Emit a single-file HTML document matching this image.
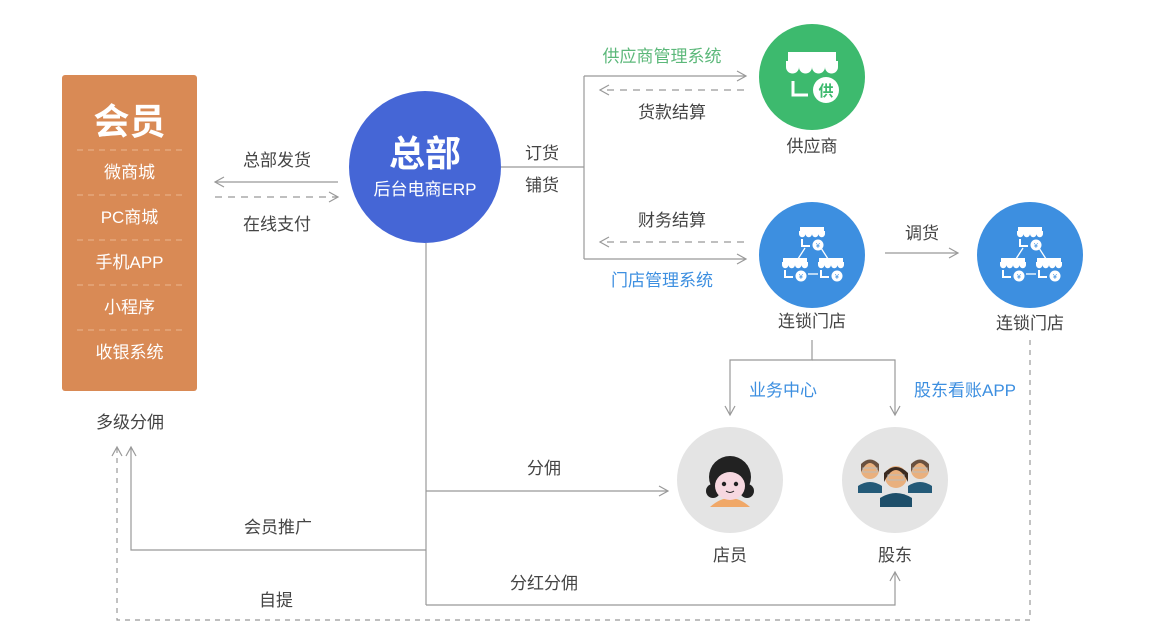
<!DOCTYPE html>
<html><head><meta charset="utf-8"><style>
html,body{margin:0;padding:0;background:#fff;}
svg{display:block;}
text{font-family:"Liberation Sans","Noto Sans CJK SC",sans-serif;}
</style></head><body>
<svg width="1155" height="641" viewBox="0 0 1155 641" xmlns="http://www.w3.org/2000/svg">
<defs>
<marker id="ar" markerWidth="12" markerHeight="12" refX="10" refY="6" orient="auto" markerUnits="userSpaceOnUse">
<path d="M1,1 L10,6 L1,11" fill="none" stroke="#999" stroke-width="1.2"/></marker>
<g id="shop">
<path d="M-12,-12 h24 v4 h-24z" fill="#fff"/>
<path d="M-13,-8 h26 v3 a3.2,3.2 0 0 1 -6.5,0 a3.2,3.2 0 0 1 -6.5,0 a3.2,3.2 0 0 1 -6.5,0 a3.2,3.2 0 0 1 -6.5,0z" fill="#fff"/>
<path d="M-10,0 v7 h8" fill="none" stroke="#fff" stroke-width="2"/>
<circle cx="6" cy="6" r="5.5" fill="#fff"/>
<text x="6" y="9" font-size="7" text-anchor="middle" fill="#3d8fe0">¥</text>
</g>
</defs>

<rect x="62" y="75" width="135" height="316" rx="3" fill="#d98a55"/>
<text x="129.5" y="134" font-size="36" font-weight="bold" fill="#fff" text-anchor="middle">会员</text>
<g stroke="#eab58f" stroke-width="1" stroke-dasharray="6,5">
<line x1="77" y1="150" x2="182" y2="150"/><line x1="77" y1="195" x2="182" y2="195"/>
<line x1="77" y1="240" x2="182" y2="240"/><line x1="77" y1="285" x2="182" y2="285"/>
<line x1="77" y1="330" x2="182" y2="330"/></g>
<g font-size="17" fill="#fff" text-anchor="middle">
<text x="129.5" y="178">微商城</text><text x="129.5" y="223">PC商城</text>
<text x="129.5" y="268">手机APP</text><text x="129.5" y="313">小程序</text>
<text x="129.5" y="358">收银系统</text></g>
<text x="130" y="428" font-size="17" fill="#444" text-anchor="middle">多级分佣</text>

<circle cx="425" cy="167" r="76" fill="#4566d6"/>
<text x="425" y="166" font-size="36" font-weight="bold" fill="#fff" text-anchor="middle">总部</text>
<text x="425" y="195" font-size="17" fill="#fff" text-anchor="middle">后台电商ERP</text>

<g stroke="#999" stroke-width="1.2" fill="none">
<line x1="338" y1="182" x2="215" y2="182" marker-end="url(#ar)"/>
<line x1="215" y1="197" x2="338" y2="197" stroke-dasharray="7,6" marker-end="url(#ar)"/>
<line x1="501" y1="167" x2="584" y2="167"/>
<polyline points="584,76 584,259"/>
<line x1="584" y1="76" x2="746" y2="76" marker-end="url(#ar)"/>
<line x1="744" y1="90" x2="600" y2="90" stroke-dasharray="7,6" marker-end="url(#ar)"/>
<line x1="584" y1="259" x2="746" y2="259" marker-end="url(#ar)"/>
<line x1="744" y1="242" x2="600" y2="242" stroke-dasharray="7,6" marker-end="url(#ar)"/>
<line x1="885" y1="253" x2="958" y2="253" marker-end="url(#ar)"/>
<polyline points="812,340 812,360 730,360 730,415" marker-end="url(#ar)"/>
<polyline points="812,360 895,360 895,415" marker-end="url(#ar)"/>
<line x1="426" y1="243" x2="426" y2="605"/>
<line x1="426" y1="491" x2="668" y2="491" marker-end="url(#ar)"/>
<polyline points="426,550 131,550 131,447" marker-end="url(#ar)"/>
<polyline points="426,605 895,605 895,572" marker-end="url(#ar)"/>
<polyline points="1030,340 1030,620 117,620 117,447" stroke-dasharray="5,5" marker-end="url(#ar)"/>
</g>

<g font-size="17" fill="#444" text-anchor="middle">
<text x="277" y="166">总部发货</text><text x="277" y="230">在线支付</text>
<text x="542" y="159">订货</text><text x="542" y="191">铺货</text>
<text x="672" y="118">货款结算</text><text x="672" y="226">财务结算</text>
<text x="922" y="239">调货</text>
<text x="544" y="474">分佣</text><text x="278" y="533">会员推广</text>
<text x="544" y="589">分红分佣</text><text x="276" y="606">自提</text>
<text x="812" y="152">供应商</text><text x="812" y="327">连锁门店</text>
<text x="1030" y="329">连锁门店</text>
<text x="730" y="561">店员</text><text x="895" y="561">股东</text>
</g>
<text x="662" y="62" font-size="17" fill="#5cb87a" text-anchor="middle">供应商管理系统</text>
<text x="662" y="286" font-size="17" fill="#3d8fe0" text-anchor="middle">门店管理系统</text>
<text x="783" y="396" font-size="17" fill="#3d8fe0" text-anchor="middle">业务中心</text>
<text x="965" y="396" font-size="17" fill="#3d8fe0" text-anchor="middle">股东看账APP</text>

<circle cx="812" cy="77" r="53" fill="#3dba6e"/>
<path d="M788,52 h48 v9 h-48z" fill="#fff"/>
<path d="M786,61 h52 v6 a6.5,6.5 0 0 1 -13,0 a6.5,6.5 0 0 1 -13,0 a6.5,6.5 0 0 1 -13,0 a6.5,6.5 0 0 1 -13,0z" fill="#fff"/>
<path d="M793,81 v14 h15" fill="none" stroke="#fff" stroke-width="3"/>
<circle cx="826" cy="90" r="13" fill="#fff"/>
<text x="826" y="96" font-size="15" fill="#3dba6e" text-anchor="middle" font-weight="bold">供</text>

<g>
<circle cx="812" cy="255" r="53" fill="#3d8fe0"/>
<g stroke="#fff" stroke-width="1.3"><line x1="805" y1="248" x2="796" y2="262"/><line x1="821" y1="248" x2="830" y2="262"/><line x1="808" y1="274" x2="818" y2="274"/></g>
<use href="#shop" transform="translate(812,239)"/>
<use href="#shop" transform="translate(795,270)"/>
<use href="#shop" transform="translate(831,270)"/>
</g>
<g>
<circle cx="1030" cy="255" r="53" fill="#3d8fe0"/>
<g stroke="#fff" stroke-width="1.3"><line x1="1023" y1="248" x2="1014" y2="262"/><line x1="1039" y1="248" x2="1048" y2="262"/><line x1="1026" y1="274" x2="1036" y2="274"/></g>
<use href="#shop" transform="translate(1030,239)"/>
<use href="#shop" transform="translate(1013,270)"/>
<use href="#shop" transform="translate(1049,270)"/>
</g>

<circle cx="730" cy="480" r="53" fill="#e4e4e4"/>
<path d="M710,507 q20,-18 40,0 z" fill="#f0a868"/>
<circle cx="730" cy="477" r="21" fill="#222"/>
<circle cx="713" cy="491" r="7" fill="#222"/><circle cx="747" cy="491" r="7" fill="#222"/>
<ellipse cx="730" cy="486" rx="15" ry="14" fill="#f7d8e0"/>
<circle cx="724" cy="484" r="2.2" fill="#222"/><circle cx="736" cy="484" r="2.2" fill="#222"/>
<path d="M726,491 q4,3 8,0" stroke="#222" fill="none"/>

<circle cx="895" cy="480" r="53" fill="#e4e4e4"/>
<g>
<path d="M858,493 h24 v-7 q-12,-8 -24,0z" fill="#245a78"/>
<circle cx="870" cy="470" r="9" fill="#e9b07e"/><path d="M861,472 q9,-18 18,0 v-8 q-9,-9 -18,0z" fill="#6a5140"/>
<rect x="863" y="468" width="14" height="4" fill="none" stroke="#bbb"/>
<path d="M908,493 h24 v-7 q-12,-8 -24,0z" fill="#245a78"/>
<circle cx="920" cy="470" r="9" fill="#e9b07e"/><path d="M911,472 q9,-18 18,0 v-8 q-9,-9 -18,0z" fill="#6a5140"/>
<rect x="913" y="468" width="14" height="4" fill="none" stroke="#bbb"/>
<path d="M880,507 h32 v-9 q-16,-10 -32,0z" fill="#1e4f6a"/>
<circle cx="896" cy="477" r="11" fill="#e9b07e"/><path d="M884,482 q12,-24 24,0 v-9 q-12,-12 -24,0z" fill="#3a2a20"/>
<rect x="888" y="475" width="16" height="5" fill="none" stroke="#bbb"/>
</g>
</svg>
</body></html>
